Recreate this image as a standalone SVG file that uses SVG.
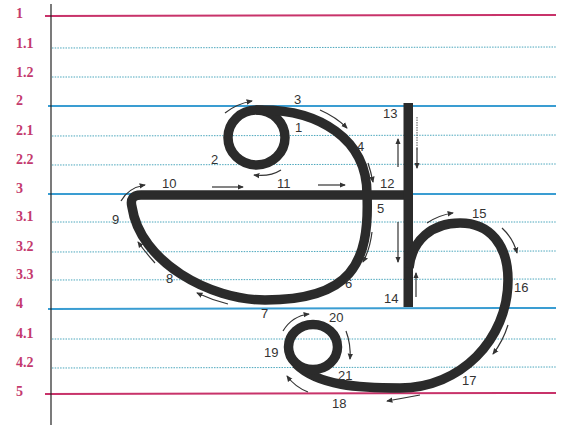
<svg xmlns="http://www.w3.org/2000/svg" width="566" height="425" viewBox="0 0 566 425">
<defs>
<style>
.red{stroke:#c8336a;stroke-width:2;fill:none}
.blue{stroke:#3a9dd2;stroke-width:2;fill:none}
.dot{stroke:#4aa6bc;stroke-width:1;stroke-dasharray:1.5 1.2;fill:none}
.lab{font-family:"Liberation Serif",serif;font-weight:bold;font-size:14px;fill:#c43a6e}
.num{font-family:"Liberation Sans",Arial,sans-serif;font-size:13px;fill:#333}
.ink{stroke:#2b2b2b;stroke-width:9.5;fill:none;stroke-linejoin:round}
.arr{stroke:#333;stroke-width:1.2;fill:none;marker-end:url(#ah)}
.thin{stroke:#444;stroke-width:0.9;fill:none;stroke-dasharray:1.5 1}
</style>
<marker id="ah" viewBox="0 0 8 8" refX="6" refY="4" markerWidth="6" markerHeight="6" orient="auto">
<path d="M0,1 L7,4 L0,7 z" fill="#333"/>
</marker>
</defs>
<rect width="566" height="425" fill="#fff"/>
<g id="guides">
<line class="red" x1="45" y1="16" x2="556" y2="15"/>
<line class="dot" x1="52" y1="48" x2="556" y2="47"/>
<line class="dot" x1="52" y1="77" x2="556" y2="77"/>
<line class="blue" x1="48" y1="106" x2="556" y2="106"/>
<line class="dot" x1="52" y1="136" x2="556" y2="135"/>
<line class="dot" x1="52" y1="165" x2="556" y2="164"/>
<line class="blue" x1="48" y1="194" x2="556" y2="194"/>
<line class="dot" x1="52" y1="222" x2="556" y2="222"/>
<line class="dot" x1="52" y1="252" x2="556" y2="251"/>
<line class="dot" x1="52" y1="280" x2="556" y2="279"/>
<line class="blue" x1="48" y1="309" x2="556" y2="308"/>
<line class="dot" x1="52" y1="339" x2="556" y2="339"/>
<line class="dot" x1="52" y1="368" x2="556" y2="367"/>
<line class="red" x1="45" y1="394" x2="556" y2="393"/>
<line x1="51" y1="4" x2="51" y2="425" stroke="#222" stroke-width="1.2"/>
</g>
<g id="scale-labels">
<text class="lab" x="16" y="18">1</text>
<text class="lab" x="16" y="48">1.1</text>
<text class="lab" x="16" y="77">1.2</text>
<text class="lab" x="16" y="105">2</text>
<text class="lab" x="16" y="135">2.1</text>
<text class="lab" x="16" y="164">2.2</text>
<text class="lab" x="16" y="193">3</text>
<text class="lab" x="16" y="221">3.1</text>
<text class="lab" x="16" y="251">3.2</text>
<text class="lab" x="16" y="279">3.3</text>
<text class="lab" x="16" y="308">4</text>
<text class="lab" x="16" y="338">4.1</text>
<text class="lab" x="16" y="367">4.2</text>
<text class="lab" x="16" y="396">5</text>
</g>
<g id="glyph">
<ellipse class="ink" cx="256.5" cy="137.5" rx="28.5" ry="27.5"/>
<path class="ink" d="M256,110 C320,108 367,140 367,194 C370,265 350,300 265,300 C210,300 140,262 132,207 Q129,195 141,195 L408,195"/>
<rect x="403.5" y="103" width="9.5" height="204" fill="#2b2b2b"/>
<path class="ink" d="M409,268 C412,240 432,223 460,223 C490,223 508,245 508,280 C508,340 460,388 400,388 C360,388 318,386 296,364"/>
<ellipse class="ink" cx="313" cy="347" rx="24.5" ry="22.5"/>
</g>
<g id="connectors">
<path class="arr" d="M225,113 Q236,104 252,101"/>
<path class="arr" d="M320,110 Q336,117 347,128"/>
<path class="arr" d="M368,163 Q371,172 373,182"/>
<path class="arr" d="M281,170 Q270,177 254,175"/>
<path class="arr" d="M212,187 L243,187"/>
<path class="arr" d="M318,185 L345,185"/>
<path class="arr" d="M121,201 Q128,188 145,185"/>
<path class="arr" d="M155,263 Q146,253 138,242"/>
<path class="arr" d="M228,304 Q212,300 197,293"/>
<path class="arr" d="M372,232 Q370,249 363,262"/>
<path class="arr" d="M283,331 Q292,316 309,314"/>
<path class="arr" d="M346,331 Q351,344 350,359"/>
<path class="arr" d="M308,392 Q295,387 287,376"/>
<path class="arr" d="M420,395 Q404,398 387,401"/>
<path class="arr" d="M508,325 Q503,341 493,354"/>
<path class="arr" d="M502,228 Q513,238 517,253"/>
<path class="arr" d="M427,223 Q439,215 453,213"/>
<path class="arr" d="M398,167 L398,139"/>
<path class="arr" d="M417,148 L417,168"/>
<path class="thin" d="M417,117 L417,150"/>
<path class="arr" d="M398,222 L398,262"/>
<path class="arr" d="M416,297 L416,273"/>
</g>
<g id="numbers">
<text class="num" x="295" y="132">1</text>
<text class="num" x="211" y="164">2</text>
<text class="num" x="294" y="104">3</text>
<text class="num" x="357" y="151">4</text>
<text class="num" x="377" y="213">5</text>
<text class="num" x="345" y="288">6</text>
<text class="num" x="261" y="318">7</text>
<text class="num" x="166" y="283">8</text>
<text class="num" x="112" y="224">9</text>
<text class="num" x="162" y="188">10</text>
<text class="num" x="277" y="188">11</text>
<text class="num" x="380" y="188">12</text>
<text class="num" x="383" y="118">13</text>
<text class="num" x="384" y="303">14</text>
<text class="num" x="472" y="218">15</text>
<text class="num" x="514" y="292">16</text>
<text class="num" x="462" y="385">17</text>
<text class="num" x="332" y="408">18</text>
<text class="num" x="264" y="357">19</text>
<text class="num" x="329" y="322">20</text>
<text class="num" x="338" y="380">21</text>
</g>
</svg>
